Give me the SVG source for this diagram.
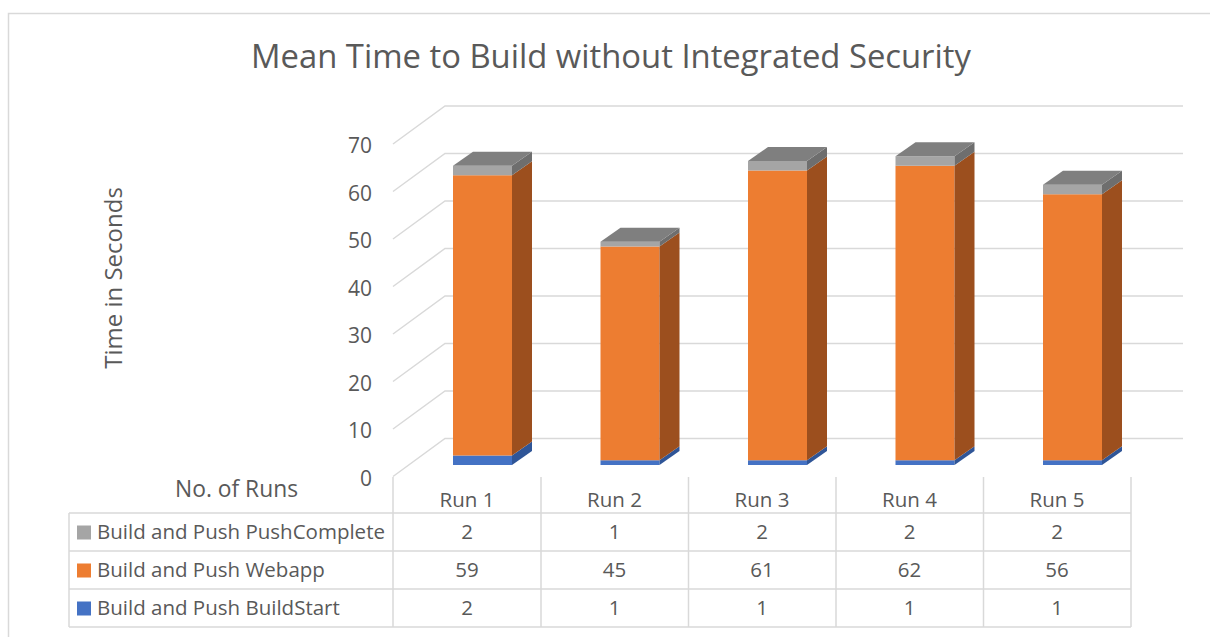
<svg xmlns="http://www.w3.org/2000/svg" width="1210" height="637" viewBox="0 0 1210 637">
<style>
text{font-family:"Open Sans","Noto Sans","DejaVu Sans",sans-serif;fill:#595959}
.t{font-size:20.5px}
.ax{font-size:21px;text-anchor:end}
.c{text-anchor:middle}
.g{fill:none;stroke:#D9D9D9;stroke-width:1.5}
.tb{stroke:#D9D9D9;stroke-width:1.5;fill:none}
.bF{fill:#4472C4}.bS{fill:#2F5597}
.oF{fill:#ED7D31}.oS{fill:#9C4F1E}
.gF{fill:#A5A5A5}.gS{fill:#6E6E6E}.gT{fill:#7F7F7F}
</style>
<rect x="0" y="0" width="1210" height="637" fill="#fff"/>
<rect x="8.5" y="13.5" width="1210" height="640" class="tb"/>
<g id="title"><text x="611" y="68" class="c" style="font-size:32.8px">Mean Time to Build without Integrated Security</text></g>
<g id="gridlines">
<polyline class="g" points="393,476.5 445,438.5 1183,438.5"/>
<polyline class="g" points="393,429 445,391 1183,391"/>
<polyline class="g" points="393,381.5 445,343.5 1183,343.5"/>
<polyline class="g" points="393,334 445,296 1183,296"/>
<polyline class="g" points="393,286.5 445,248.5 1183,248.5"/>
<polyline class="g" points="393,239 445,201 1183,201"/>
<polyline class="g" points="393,191.5 445,153.5 1183,153.5"/>
<polyline class="g" points="393,144 445,106 1183,106"/>
</g>
<g id="axis">
<text class="ax" x="372" y="486">0</text>
<text class="ax" x="372" y="438">10</text>
<text class="ax" x="372" y="390.5">20</text>
<text class="ax" x="372" y="343">30</text>
<text class="ax" x="372" y="295.5">40</text>
<text class="ax" x="372" y="248">50</text>
<text class="ax" x="372" y="200.5">60</text>
<text class="ax" x="372" y="153">70</text>
<text transform="translate(122,278) rotate(-90)" class="c" style="font-size:24px">Time in Seconds</text>
</g>
<g id="bar1">
<rect class="bF" x="453" y="455.5" width="59" height="9.5"/>
<polygon class="bS" points="512,465 512,455.5 532,441.5 532,451"/>
<rect class="oF" x="453" y="175.25" width="59" height="280.25"/>
<polygon class="oS" points="512,455.5 512,175.25 532,161.25 532,441.5"/>
<rect class="gF" x="453" y="165.75" width="59" height="9.5"/>
<polygon class="gS" points="512,175.25 512,165.75 532,151.75 532,161.25"/>
<polygon class="gT" points="453,165.75 512,165.75 532,151.75 473,151.75"/>
</g>
<g id="bar2">
<rect class="bF" x="600.5" y="460.25" width="59" height="4.75"/>
<polygon class="bS" points="659.5,465 659.5,460.25 679.5,446.25 679.5,451"/>
<rect class="oF" x="600.5" y="246.5" width="59" height="213.75"/>
<polygon class="oS" points="659.5,460.25 659.5,246.5 679.5,232.5 679.5,446.25"/>
<rect class="gF" x="600.5" y="241.75" width="59" height="4.75"/>
<polygon class="gS" points="659.5,246.5 659.5,241.75 679.5,227.75 679.5,232.5"/>
<polygon class="gT" points="600.5,241.75 659.5,241.75 679.5,227.75 620.5,227.75"/>
</g>
<g id="bar3">
<rect class="bF" x="748" y="460.25" width="59" height="4.75"/>
<polygon class="bS" points="807,465 807,460.25 827,446.25 827,451"/>
<rect class="oF" x="748" y="170.5" width="59" height="289.75"/>
<polygon class="oS" points="807,460.25 807,170.5 827,156.5 827,446.25"/>
<rect class="gF" x="748" y="161" width="59" height="9.5"/>
<polygon class="gS" points="807,170.5 807,161 827,147 827,156.5"/>
<polygon class="gT" points="748,161 807,161 827,147 768,147"/>
</g>
<g id="bar4">
<rect class="bF" x="895.5" y="460.25" width="59" height="4.75"/>
<polygon class="bS" points="954.5,465 954.5,460.25 974.5,446.25 974.5,451"/>
<rect class="oF" x="895.5" y="165.75" width="59" height="294.5"/>
<polygon class="oS" points="954.5,460.25 954.5,165.75 974.5,151.75 974.5,446.25"/>
<rect class="gF" x="895.5" y="156.25" width="59" height="9.5"/>
<polygon class="gS" points="954.5,165.75 954.5,156.25 974.5,142.25 974.5,151.75"/>
<polygon class="gT" points="895.5,156.25 954.5,156.25 974.5,142.25 915.5,142.25"/>
</g>
<g id="bar5">
<rect class="bF" x="1043" y="460.25" width="59" height="4.75"/>
<polygon class="bS" points="1102,465 1102,460.25 1122,446.25 1122,451"/>
<rect class="oF" x="1043" y="194.25" width="59" height="266"/>
<polygon class="oS" points="1102,460.25 1102,194.25 1122,180.25 1122,446.25"/>
<rect class="gF" x="1043" y="184.75" width="59" height="9.5"/>
<polygon class="gS" points="1102,194.25 1102,184.75 1122,170.75 1122,180.25"/>
<polygon class="gT" points="1043,184.75 1102,184.75 1122,170.75 1063,170.75"/>
</g>
<g id="datatable">
<path class="tb" d="M393,477V627M541,477V627M688.5,477V627M836,477V627M983.5,477V627M1131,477V627M69,513V627M69,513H1131M69,551H1131M69,589H1131M69,627H1131"/>
<text class="t" x="175" y="497" style="font-size:22.8px">No. of Runs</text>
<text class="t c" x="467" y="507">Run 1</text>
<text class="t c" x="614.5" y="507">Run 2</text>
<text class="t c" x="762" y="507">Run 3</text>
<text class="t c" x="909.5" y="507">Run 4</text>
<text class="t c" x="1057" y="507">Run 5</text>
<rect class="gF" x="77" y="525.5" width="14" height="14"/>
<text class="t" x="97" y="539">Build and Push PushComplete</text>
<rect class="oF" x="77" y="563.5" width="14" height="14"/>
<text class="t" x="97" y="577">Build and Push Webapp</text>
<rect class="bF" x="77" y="601.5" width="14" height="14"/>
<text class="t" x="97" y="615">Build and Push BuildStart</text>
<text class="t c" x="467" y="539">2</text><text class="t c" x="614.5" y="539">1</text><text class="t c" x="762" y="539">2</text><text class="t c" x="909.5" y="539">2</text><text class="t c" x="1057" y="539">2</text>
<text class="t c" x="467" y="577">59</text><text class="t c" x="614.5" y="577">45</text><text class="t c" x="762" y="577">61</text><text class="t c" x="909.5" y="577">62</text><text class="t c" x="1057" y="577">56</text>
<text class="t c" x="467" y="615">2</text><text class="t c" x="614.5" y="615">1</text><text class="t c" x="762" y="615">1</text><text class="t c" x="909.5" y="615">1</text><text class="t c" x="1057" y="615">1</text>
</g>
</svg>
